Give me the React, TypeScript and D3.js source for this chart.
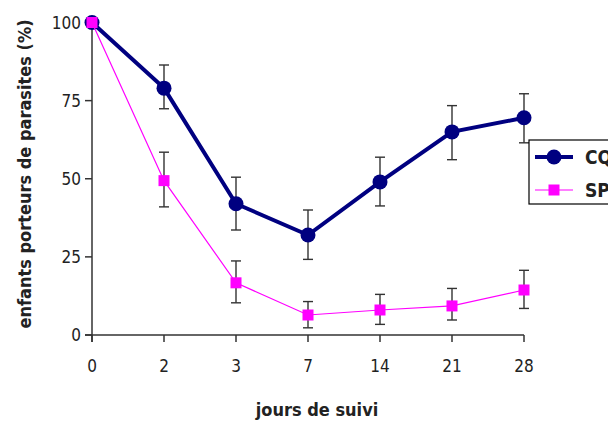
import * as d3 from "d3";

// jours de suivi (categories) and % of children carrying parasites
const days = ["0", "2", "3", "7", "14", "21", "28"];
const yTicks = [0, 25, 50, 75, 100];

const cqValues = [100, 79, 42, 32, 49, 65, 69.5];
const cqLow = [null, 72.4, 33.6, 24.2, 41.3, 56.1, 61.5];
const cqHigh = [null, 86.4, 50.5, 40, 56.9, 73.4, 77.2];

const spValues = [100, 49.4, 16.7, 6.4, 8, 9.3, 14.4];
const spLow = [null, 41, 10.3, 2.3, 3.4, 4.8, 8.5];
const spHigh = [null, 58.5, 23.7, 10.7, 13, 14.9, 20.7];

const seriesNames = ["CQ", "SP"];

const FONT = "'Liberation Sans Narrow', 'DejaVu Sans Condensed', 'Liberation Sans', sans-serif";

const App = () => {
  const width = 608;
  const height = 421;

  const x = d3.scalePoint<string>().domain(days).range([92, 524]);
  const y = d3.scaleLinear().domain([0, 100]).range([335, 22.5]);

  const line = d3
    .line<number>()
    .x((_d, i) => x(days[i]) as number)
    .y((d) => y(d));

  // error bar helper
  const errorBars = (lo: (number | null)[], hi: (number | null)[], key: string) =>
    days.map((d, i) => {
      if (lo[i] == null || hi[i] == null) return null;
      const cx = x(d) as number;
      return (
        <g key={key + d} stroke="#333" strokeWidth={1.4}>
          <line x1={cx} x2={cx} y1={y(lo[i] as number)} y2={y(hi[i] as number)} />
          <line x1={cx - 5} x2={cx + 5} y1={y(hi[i] as number)} y2={y(hi[i] as number)} />
          <line x1={cx - 5} x2={cx + 5} y1={y(lo[i] as number)} y2={y(lo[i] as number)} />
        </g>
      );
    });

  return (
    <svg
      width={width}
      height={height}
      style={{ position: "absolute", left: 0, top: 0, background: "#fff" }}
      fontFamily={FONT}
    >
      {/* axes */}
      <g stroke="#333" strokeWidth={1.5}>
        <line x1={92} x2={92} y1={y(100)} y2={342} />
        <line x1={85} x2={524} y1={y(0)} y2={y(0)} />
        {yTicks.map((t) => (
          <line key={"yt" + t} x1={85} x2={92} y1={y(t)} y2={y(t)} />
        ))}
        {days.map((d) => (
          <line key={"xt" + d} x1={x(d)} x2={x(d)} y1={y(0)} y2={342} />
        ))}
      </g>
      <g fontSize={17} fill="#222">
        {yTicks.map((t) => (
          <text key={"yl" + t} x={81} y={y(t)} dy="0.36em" textAnchor="end">
            {t}
          </text>
        ))}
        {days.map((d) => (
          <text key={"xl" + d} x={x(d)} y={372} textAnchor="middle">
            {d}
          </text>
        ))}
      </g>

      {/* axis titles */}
      <text x={317} y={416} textAnchor="middle" fontSize={18} fontWeight="bold" fill="#222">
        jours de suivi
      </text>
      <text
        transform="translate(25,174) rotate(-90)"
        dy="0.36em"
        textAnchor="middle"
        fontSize={18}
        fontWeight="bold"
        fill="#222"
      >
        enfants porteurs de parasites (%)
      </text>

      {/* error bars */}
      {errorBars(cqLow, cqHigh, "cq")}
      {errorBars(spLow, spHigh, "sp")}

      {/* CQ series */}
      <path d={line(cqValues) ?? ""} fill="none" stroke="#000080" strokeWidth={4} />
      {cqValues.map((v, i) => (
        <circle key={"cq" + i} cx={x(days[i])} cy={y(v)} r={7.5} fill="#000080" />
      ))}

      {/* SP series */}
      <path d={line(spValues) ?? ""} fill="none" stroke="#ff00ff" strokeWidth={1.2} />
      {spValues.map((v, i) => (
        <rect
          key={"sp" + i}
          x={(x(days[i]) as number) - 5.5}
          y={y(v) - 5.5}
          width={11}
          height={11}
          fill="#ff00ff"
        />
      ))}

      {/* legend */}
      <g>
        <rect x={529} y={140} width={100} height={64} fill="#fff" stroke="#000" strokeWidth={1.2} />
        <line x1={535} x2={573} y1={157} y2={157} stroke="#000080" strokeWidth={4} />
        <circle cx={554} cy={157} r={7.5} fill="#000080" />
        <line x1={535} x2={573} y1={190} y2={190} stroke="#ff00ff" strokeWidth={1.2} />
        <rect x={548.5} y={184.5} width={11} height={11} fill="#ff00ff" />
        {seriesNames.map((n, i) => (
          <text key={n} x={585} y={157 + i * 33} dy="0.36em" fontSize={19} fontWeight="bold" fill="#222">
            {n}
          </text>
        ))}
      </g>
    </svg>
  );
};

export default App;
